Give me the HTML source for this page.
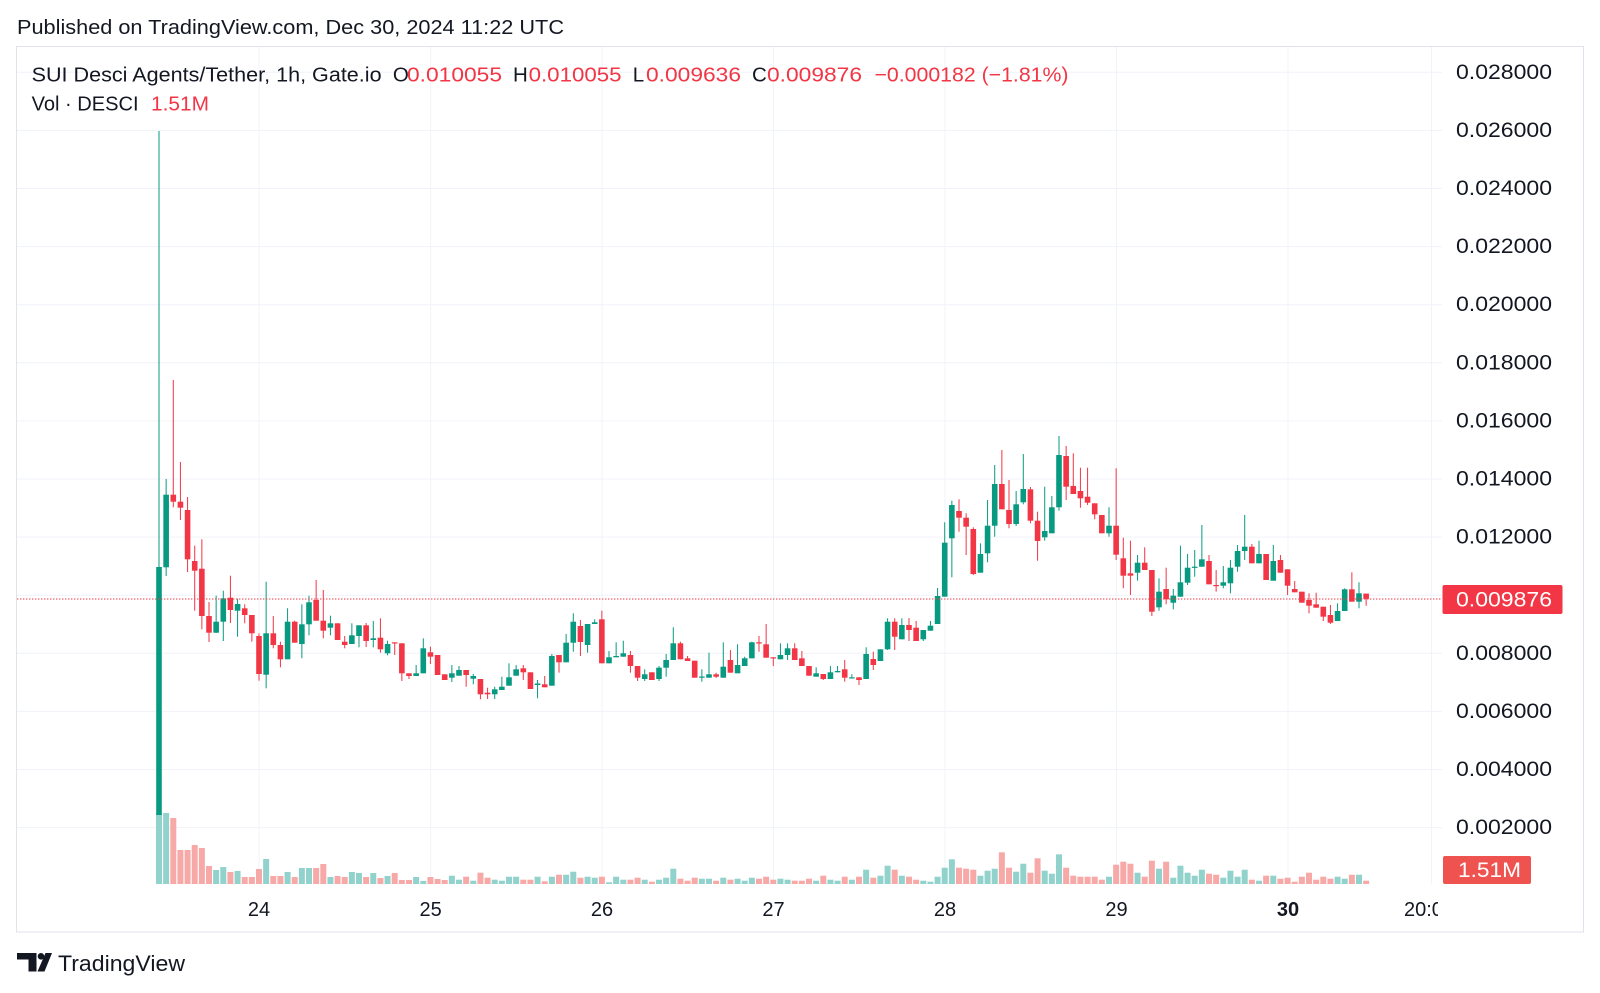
<!DOCTYPE html>
<html>
<head>
<meta charset="utf-8">
<style>
  html,body{margin:0;padding:0;background:#ffffff;}
  body{width:1600px;height:993px;overflow:hidden;}
  svg{display:block;font-family:"Liberation Sans",Arial,sans-serif;}
</style>
</head>
<body>
<svg id="chart" width="1600" height="993" viewBox="0 0 1600 993" xmlns="http://www.w3.org/2000/svg">
  <rect x="0" y="0" width="1600" height="993" fill="#ffffff"/>
  <!-- header -->
  <text x="17" y="27.5" font-size="20.5" fill="#131722" textLength="547" lengthAdjust="spacingAndGlyphs" dominant-baseline="central">Published on TradingView.com, Dec 30, 2024 11:22 UTC</text>
  <!-- frame -->
  <rect x="16.5" y="46.5" width="1567" height="885.5" fill="none" stroke="#e0e3eb" stroke-width="1"/>
  <g id="grid" stroke="#f0f3fa" stroke-width="1"></g>
  <g id="vols"></g>
  <g id="candles"></g>
  <!-- price line -->
  <line x1="17" y1="599" x2="1442" y2="599" stroke="#f23645" stroke-width="1" stroke-dasharray="1.4 1.6"/>
  <!-- legend -->
  <g font-size="20.5" dominant-baseline="central" fill="#131722">
    <text x="31.6" y="75" textLength="350" lengthAdjust="spacingAndGlyphs">SUI Desci Agents/Tether, 1h, Gate.io</text>
    <text x="392.9" y="75">O</text>
    <text x="407" y="75" fill="#f23645" textLength="95" lengthAdjust="spacingAndGlyphs">0.010055</text>
    <text x="513" y="75">H</text>
    <text x="528.6" y="75" fill="#f23645" textLength="93" lengthAdjust="spacingAndGlyphs">0.010055</text>
    <text x="632.7" y="75">L</text>
    <text x="646" y="75" fill="#f23645" textLength="95" lengthAdjust="spacingAndGlyphs">0.009636</text>
    <text x="752" y="75">C</text>
    <text x="767" y="75" fill="#f23645" textLength="95" lengthAdjust="spacingAndGlyphs">0.009876</text>
    <text x="874.5" y="75" fill="#f23645" textLength="194" lengthAdjust="spacingAndGlyphs">−0.000182 (−1.81%)</text>
    <text x="31.6" y="104" textLength="107" lengthAdjust="spacingAndGlyphs">Vol · DESCI</text>
    <text x="151" y="104" fill="#f23645" textLength="58" lengthAdjust="spacingAndGlyphs">1.51M</text>
  </g>
  <!-- price axis labels -->
  <g font-size="21" fill="#131722" dominant-baseline="central">
    <text x="1456" y="72.3" textLength="96" lengthAdjust="spacingAndGlyphs">0.028000</text>
    <text x="1456" y="130.4" textLength="96" lengthAdjust="spacingAndGlyphs">0.026000</text>
    <text x="1456" y="188.5" textLength="96" lengthAdjust="spacingAndGlyphs">0.024000</text>
    <text x="1456" y="246.6" textLength="96" lengthAdjust="spacingAndGlyphs">0.022000</text>
    <text x="1456" y="304.7" textLength="96" lengthAdjust="spacingAndGlyphs">0.020000</text>
    <text x="1456" y="362.8" textLength="96" lengthAdjust="spacingAndGlyphs">0.018000</text>
    <text x="1456" y="420.9" textLength="96" lengthAdjust="spacingAndGlyphs">0.016000</text>
    <text x="1456" y="479" textLength="96" lengthAdjust="spacingAndGlyphs">0.014000</text>
    <text x="1456" y="537.1" textLength="96" lengthAdjust="spacingAndGlyphs">0.012000</text>
    <text x="1456" y="653.3" textLength="96" lengthAdjust="spacingAndGlyphs">0.008000</text>
    <text x="1456" y="711.4" textLength="96" lengthAdjust="spacingAndGlyphs">0.006000</text>
    <text x="1456" y="769.5" textLength="96" lengthAdjust="spacingAndGlyphs">0.004000</text>
    <text x="1456" y="827.6" textLength="96" lengthAdjust="spacingAndGlyphs">0.002000</text>
  </g>
  <!-- price box -->
  <rect x="1442.5" y="585" width="120" height="29" rx="2" fill="#f23645"/>
  <text x="1456" y="599.8" font-size="21" fill="#ffffff" textLength="96" lengthAdjust="spacingAndGlyphs" dominant-baseline="central">0.009876</text>
  <!-- volume box -->
  <rect x="1443" y="856" width="88" height="28" rx="2" fill="#ef5350"/>
  <text x="1458" y="870.5" font-size="21" fill="#ffffff" textLength="63" lengthAdjust="spacingAndGlyphs" dominant-baseline="central">1.51M</text>
  <!-- time axis -->
  <g font-size="20" fill="#131722" text-anchor="middle" dominant-baseline="central">
    <text x="259" y="910">24</text>
    <text x="430.6" y="910">25</text>
    <text x="602" y="910">26</text>
    <text x="773.5" y="910">27</text>
    <text x="945" y="910">28</text>
    <text x="1116.5" y="910">29</text>
    <text x="1288" y="910" font-weight="bold">30</text>
  </g>
  <svg x="1390" y="890" width="48" height="40" overflow="hidden">
    <text x="14" y="20" font-size="20" fill="#131722" dominant-baseline="central">20:00</text>
  </svg>
  <!-- TradingView logo -->
  <g fill="#131722">
    <path d="M17 953 H36.5 V971.5 H28.5 V959.5 H17 Z"/>
    <circle cx="41" cy="956.3" r="3.3"/>
    <path d="M45.5 953 H52 L44.5 971.5 H37.5 Z"/>
  </g>
  <text x="58" y="963.5" font-size="22" fill="#131722" textLength="127" lengthAdjust="spacingAndGlyphs" dominant-baseline="central">TradingView</text>
</svg>
<script>
(function(){
var NS="http://www.w3.org/2000/svg";
function el(parent,name,attrs){var e=document.createElementNS(NS,name);for(var k in attrs)e.setAttribute(k,attrs[k]);parent.appendChild(e);return e;}
var grid=document.getElementById('grid');
var hy=[72.3,130.4,188.5,246.6,304.7,362.8,420.9,479,537.1,595.2,653.3,711.4,769.5,827.6];
hy.forEach(function(y){el(grid,'line',{x1:17,y1:y,x2:1442,y2:y});});
var vx=[259,430.6,602,773.5,945,1116.5,1288,1431.5];
vx.forEach(function(x){el(grid,'line',{x1:x,y1:47,x2:x,y2:884});});

var C=[
[1,567,815,131,815],[1,494.7,567.3,479,576],[0,494.7,501.7,380,507.3],[0,501.7,507.7,462,520],[0,510,559.3,497,572],
[0,561,570.7,545.7,610.7],[0,568.7,616,539.3,629.3],[0,616,632.7,602,642],[1,621.7,632.7,595.7,633],[1,598.3,621.7,590.7,641],
[0,597.7,610,575.7,623],[1,604,610.7,598.7,636.7],[0,608.3,615,604.3,623.3],[0,615,633.3,615,641.7],[0,636,674,633.3,680.7],
[1,633.3,674.7,581.7,688.3],[0,633.3,645,616,648.3],[0,645,659.3,641.7,667.3],[1,621.7,659.3,608.3,659.3],[0,621.7,642.7,620.7,642.7],
[1,624.3,644,604.3,658.3],[1,602.3,624.3,595.7,635.3],[0,600,620.7,580,620.7],[0,620.7,630.7,590,638.3],[1,623.3,627.7,615.7,635.3],
[0,623.3,640,623.3,640],[0,641.7,645,636,648.3],[1,635.3,644,623.3,644],[1,625.3,636,625.3,647.3],[0,625.3,641,623,647],
[1,638.3,640,621,647.3],[0,637.7,649.3,618.3,652.7],[1,644,653.3,640.7,655.3],[0,642.3,643.5,642.3,655],[0,643.3,673.3,643.3,681],
[0,673.3,676,673.3,679],[1,673.3,676,665,676],[1,648.3,673.3,638.3,673.3],[0,652.3,656.7,646.7,664],[0,655,675,655,675],
[0,674.3,680,674.3,680],[1,673.3,677.7,665,682],[1,670,675.7,666,675.7],[0,670,675,670,686.7],[1,676,678.7,674,684.3],
[0,679,694.3,679,699.3],[0,692.7,694.3,687.7,699],[1,689.3,694.3,686.7,699],[1,686.7,690,676.7,690],[1,677.3,685.7,663.3,685.7],
[1,669.3,675.7,665,675.7],[0,668.3,672.3,665,680],[0,672.3,689,672.3,689],[1,683.5,685,680,698.3],[0,684.3,687.3,676,687.3],
[1,656,685.7,654,685.7],[0,655,662.3,655,672.7],[1,642.7,662.3,634,662.3],[1,621.7,642.7,613.3,651.7],[0,626,642,620,656],
[1,624,645,624,652.7],[1,622.3,624,619.3,624],[0,619.3,663.3,610.7,663.3],[1,657.3,663.3,651,663.3],[1,656,657.3,642.3,657.3],
[1,653.3,656.7,640.7,656.7],[0,655,666,651,672.7],[0,666,677.7,666,681],[1,674.3,679,669.3,681],[0,672.3,680,672.3,680],
[1,667.7,679,666,681],[1,660,667.7,654,676.7],[1,643.3,660,627.3,660],[0,643.3,659.3,641.7,659.3],[0,658.3,661,656,661],
[0,660.7,677.7,660.7,677.7],[1,676.5,677.7,669.3,681.7],[1,674.3,677.7,652.7,677.7],[0,674.3,676.7,672.7,678],[1,666.7,677.7,642.3,677.7],
[0,660,672.7,650,672.7],[1,665,673.3,644.3,673.3],[1,658.3,666,656.7,666],[1,642.3,658.3,641.7,658.3],[0,642.3,643.5,636,651.7],
[0,644.3,657.7,624,657.7],[0,657.3,658.3,657.3,666],[1,655,659.3,643.3,659.3],[1,648.3,655,643.3,660],[0,648.3,660,643.3,660],
[0,658.3,666,651,666],[0,666,675.7,666,675.7],[1,673.3,676.7,667.3,676.7],[0,674,679,674,680],[1,672.3,679,666,679],
[1,671,672.3,666,672.3],[0,669.3,677.7,660,681.7],[1,677.3,678.3,674.3,678.3],[0,677.3,680,677.3,685],[1,654,679,647.3,679],
[0,659,665,651.7,670],[1,649.3,661,649.3,661],[1,621.7,649.3,618.3,650],[0,621.7,636.7,618.3,650],[1,625,639.3,618.3,639.3],
[0,625,630,618,641],[0,627.7,641,621,641],[1,630,639.3,630,641],[1,625.7,630.7,621,630.7],[1,596,624,588,624],
[1,542.7,596.7,522.3,596.7],[1,505,538.3,500.7,577.3],[0,511,517.7,499.3,531.7],[0,517.7,526.7,513.3,555],[0,529,574,527.3,575],
[1,554,572.7,543.3,572.7],[1,525.7,553.3,500,562.3],[1,484,525.7,465,536.7],[0,484,509.3,450,509.3],[0,510,524,480,528.3],
[1,504.3,524,491,526],[1,489,502.3,454,504.3],[0,489.3,520.7,487,523.3],[0,520.7,541,511.7,560.7],[1,531,537.3,486.7,540.7],
[1,507.3,533.3,496,533.3],[1,455,507.3,436,510.7],[0,456,486.7,446,500],[0,486,494,453.3,494],[0,491,498.3,467.7,507.7],
[0,496.7,502.7,467.7,505],[0,503.3,514.3,503.3,519.3],[0,515,533.3,515,533.3],[1,525.7,533.3,507.3,536.7],[0,525.7,554.7,468.3,560],
[0,558.3,575.7,537.7,588.3],[0,573.3,575.7,540.7,595],[1,562.7,572.7,555,580.7],[0,562.7,570,547.3,570],[0,570,611.7,570,616],
[1,591.7,607.3,578.3,610.7],[0,589,599.3,567.7,604.3],[1,595.7,602.7,589,609.3],[1,582.3,596.7,545.7,596.7],[1,567.7,582.7,554,585],
[1,566.7,567.7,550,576.7],[1,559.3,566.7,525,566.7],[0,561,584.3,555,584.3],[0,585,585.8,570,591.7],[1,582.3,585.7,566,588.3],
[1,567.7,583.3,560,593.3],[1,551,566.7,545,571.7],[1,546.7,551,515,560],[0,546.7,563.3,544,563.3],[1,554,563.3,540.7,563.3],
[0,554,580,554,580],[1,561,580.7,545,580.7],[0,560,572.7,555,572.7],[0,569.3,585.7,569.3,595],[0,589,592.3,581,592.3],
[0,591.7,602.7,591.7,602.7],[0,600,605.7,593.3,613.3],[0,604.3,607.7,592.7,607.7],[0,606.7,616.7,606.7,621],[0,615,622.7,605,624],
[1,611,621,603.3,621],[1,589.3,611,588.3,611],[0,589.3,601.7,572.3,601.7],[1,593.3,601.7,582.3,608.3],[0,593.6,598.8,593.6,605.8]
];
var V=[71,71,66,34,34,39,36,18,14,17,12,13,7,7,15,25,8,8,12,7,16,16,16,20,7,8,7,12,11,7,11,6,8,11,4,4,7,3,7,5,4,
8.3,4.3,7.3,3.3,11.3,6.3,4.3,3.3,7.3,7.3,
4.3,4.3,7.3,2.7,7.3,9.3,9.3,12.3,6.3,7.3,
6.3,7.3,1.7,7.3,4.3,4.3,6.3,4.3,2.3,4.3,
6.3,15.3,5.3,3.3,6.3,5.3,5.3,3.3,6.3,4.3,
5.3,3.3,6.3,5.3,7.3,4.3,5.3,4.3,3.3,3.3,
5.3,3.3,8.3,4.3,3.3,7.3,4.3,7.3,14.3,6.3,
8.3,18.3,14.3,8.3,7.3,4.3,3.3,2.3,7.3,16.3,
24.7,16.3,15.3,14.3,8.3,13.3,15.3,31.7,16.3,12.3,
20.3,11.3,25.7,13.3,10.3,29.7,16.3,8.3,7.3,7.3,
7.3,4.3,7.3,19.3,22.3,20.3,11.3,7.3,23.3,15.3,
22.3,6.3,18.3,11.3,8.3,14.3,10.3,9.3,6.3,13.3,
7.3,14.3,4.3,3.3,8.3,8.3,5.3,6.3,2.3,7.3,
11.3,4.3,7.3,5.3,7.3,5.3,9.3,9.3,3.3];
var vols=document.getElementById('vols'), cg=document.getElementById('candles');
var base=884;
for(var i=0;i<C.length;i++){
  var c=C[i], x=159+i*7.142857;
  var h=V[i]||3;
  el(vols,'rect',{x:(x-3).toFixed(2),y:(base-h).toFixed(2),width:6,height:h.toFixed(2),fill:c[0]?'#92d2cc':'#f7a9a7'});
}
for(var i=0;i<C.length;i++){
  var c=C[i], x=159+i*7.142857, col=c[0]?'#089981':'#f23645';
  el(cg,'rect',{x:(x-0.5).toFixed(2),y:c[3],width:1,height:(c[4]-c[3]).toFixed(2),fill:col});
  var bh=Math.max(c[2]-c[1],1.2);
  el(cg,'rect',{x:(x-2.8).toFixed(2),y:c[1],width:5.6,height:bh.toFixed(2),fill:col});
}
})();
</script>
</body>
</html>
